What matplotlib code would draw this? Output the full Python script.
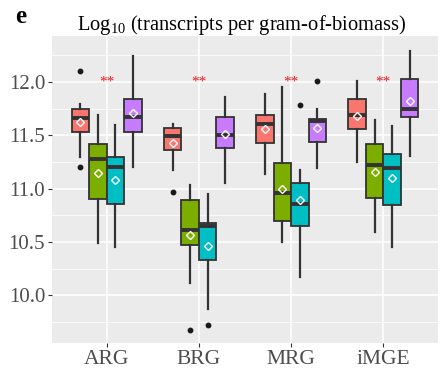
import numpy as np
import matplotlib.pyplot as plt

plt.rcParams['mathtext.fontset'] = 'custom'
plt.rcParams['mathtext.rm'] = 'Liberation Serif'
plt.rcParams['mathtext.it'] = 'Liberation Serif:italic'

# --- data ---
categories = ['ARG', 'BRG', 'MRG', 'iMGE']
groups = ['g1', 'g2', 'g3', 'g4']
colors = ['#F8766D', '#7CAE00', '#00BFC4', '#C77CFF']

# per category, per group: (whislo, q1, med, q3, whishi, mean, fliers)
box_stats = {
    'ARG': [
        (11.30, 11.53, 11.66, 11.75, 11.79, 11.62, [12.10, 11.20]),
        (10.49, 10.90, 11.28, 11.42, 11.69, 11.15, []),
        (10.45, 10.86, 11.20, 11.30, 11.60, 11.08, []),
        (11.20, 11.53, 11.67, 11.84, 12.24, 11.71, []),
    ],
    'BRG': [
        (11.17, 11.36, 11.49, 11.57, 11.61, 11.43, [10.97]),
        (10.12, 10.47, 10.61, 10.89, 11.03, 10.57, [9.68]),
        (9.87, 10.33, 10.65, 10.68, 10.95, 10.46, [9.72]),
        (11.05, 11.38, 11.50, 11.67, 11.86, 11.51, []),
    ],
    'MRG': [
        (11.14, 11.43, 11.61, 11.69, 11.89, 11.56, []),
        (10.50, 10.70, 10.96, 11.24, 11.95, 11.00, []),
        (10.17, 10.65, 10.86, 11.05, 11.17, 10.89, [11.78]),
        (11.19, 11.44, 11.63, 11.65, 11.75, 11.57, [12.01]),
    ],
    'iMGE': [
        (11.25, 11.56, 11.69, 11.84, 12.01, 11.68, []),
        (10.59, 10.91, 11.22, 11.42, 11.64, 11.16, []),
        (10.45, 10.85, 11.19, 11.32, 11.59, 11.10, []),
        (11.31, 11.67, 11.75, 12.03, 12.29, 11.82, []),
    ],
}
sig_labels = ['**', '**', '**', '**']
sig_y = 12.0
yticks = [10.0, 10.5, 11.0, 11.5, 12.0]

fig = plt.figure(figsize=(4.46, 3.74), dpi=100)
ax = fig.add_axes([0.1166, 0.083, 0.8654, 0.8207])
ax.set_facecolor('#EBEBEB')

width = 0.19
offsets = (np.arange(4) - 1.5) * width
for ci, cat in enumerate(categories):
    for gi, st in enumerate(box_stats[cat]):
        lo, q1, med, q3, hi, mean, fl = st
        d = dict(whislo=lo, q1=q1, med=med, q3=q3, whishi=hi, mean=mean, fliers=fl)
        pos = ci + 1 + offsets[gi]
        ax.bxp([d], positions=[pos], widths=width, patch_artist=True, showmeans=True,
               showcaps=False,
               boxprops=dict(facecolor=colors[gi], edgecolor='#333333', linewidth=1.3),
               whiskerprops=dict(color='#333333', linewidth=1.6),
               medianprops=dict(color='#333333', linewidth=2.8, solid_capstyle='butt'),
               meanprops=dict(marker='D', markerfacecolor='none', markeredgecolor='white',
                              markeredgewidth=1.0, markersize=4.5),
               flierprops=dict(marker='o', markerfacecolor='#1a1a1a', markeredgecolor='#1a1a1a',
                               markersize=3.2),
               zorder=3)

for ci, lab in enumerate(sig_labels):
    ax.text(ci + 1, sig_y, lab, color='#E41A1C', ha='center', va='center',
            fontsize=11, family='Liberation Serif', zorder=4)

ax.set_xlim(0.407, 4.593)
ax.set_ylim(9.554, 12.43)
ax.set_xticks(range(1, 5))
ax.set_xticklabels(categories)
ax.set_yticks(yticks)
ax.set_yticklabels([f'{v:.1f}' for v in yticks])
ax.set_yticks(np.arange(9.75, 12.5, 0.5), minor=True)
ax.grid(True, which='major', color='white', linewidth=1.1, zorder=0)
ax.grid(True, which='minor', axis='y', color='white', linewidth=0.55, zorder=0)
ax.set_axisbelow(True)
for s in ax.spines.values():
    s.set_visible(False)
ax.tick_params(axis='both', which='major', colors='#333333', length=3, width=0.8,
               labelcolor='#4D4D4D', pad=2)
ax.tick_params(axis='y', which='minor', length=0)
for t in ax.get_xticklabels():
    t.set_fontfamily('Liberation Serif')
    t.set_fontsize(15.5)
for t in ax.get_yticklabels():
    t.set_fontfamily('Liberation Serif')
    t.set_fontsize(15)

fig.text(0.543, 0.933, r'Log$_{10}$ (transcripts per gram-of-biomass)', ha='center',
         va='center', fontsize=14.8, family='Liberation Serif')
fig.text(0.047, 0.955, 'e', ha='center', va='center', fontsize=18, fontweight='bold',
         family='Liberation Serif')

fig.savefig('out.png', dpi=100)
